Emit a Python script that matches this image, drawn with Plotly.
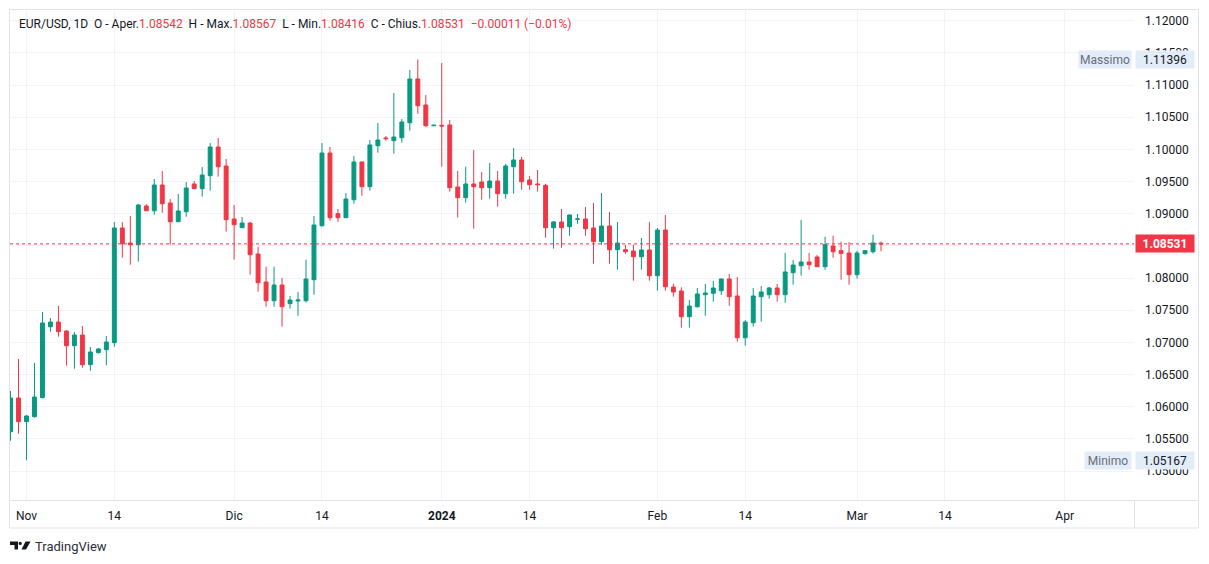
import pandas as pd
import plotly.graph_objects as go

# ---------------- data (EUR/USD daily, Sun-Fri sessions) ----------------
open_ = [1.05611, 1.06135, 1.05767, 1.05844, 1.06140, 1.07243, 1.07316, 1.07176, 1.06948, 1.07114,
         1.06653, 1.06840, 1.06886, 1.06995, 1.08778, 1.08544, 1.08518, 1.09120, 1.09046, 1.09446,
         1.09166, 1.08875, 1.09031, 1.09462, 1.09389, 1.09590, 1.10037, 1.09741, 1.08917, 1.08782,
         1.08855, 1.08373, 1.07938, 1.07647, 1.07891, 1.07601, 1.07643, 1.07647, 1.07974, 1.08813,
         1.09943, 1.09000, 1.08938, 1.09217, 1.09804, 1.09420, 1.10057, 1.10177, 1.10135, 1.10181,
         1.10414, 1.11094, 1.10690, 1.10368, 1.10374, 1.10379, 1.09415, 1.09249, 1.09462, 1.09493,
         1.09404, 1.09508, 1.09311, 1.09730, 1.09835, 1.09524, 1.09462, 1.09441, 1.08782, 1.08871,
         1.08798, 1.08913, 1.08918, 1.08778, 1.08565, 1.08809, 1.08440, 1.08440, 1.08420, 1.08331,
         1.08436, 1.08036, 1.08746, 1.07860, 1.07798, 1.07399, 1.07554, 1.07741, 1.07763, 1.07803,
         1.07985, 1.07721, 1.07072, 1.07305, 1.07710, 1.07741, 1.07845, 1.07741, 1.08083, 1.08191,
         1.08249, 1.08327, 1.08176, 1.08498, 1.08425, 1.08389, 1.08052, 1.08378, 1.08409, 1.08542]
high = [1.06244, 1.06741, 1.05871, 1.06679, 1.07472, 1.07378, 1.07565, 1.07192, 1.07161, 1.07254,
        1.06928, 1.06912, 1.07099, 1.08870, 1.08870, 1.08964, 1.09151, 1.09151, 1.09539, 1.09664,
        1.09228, 1.09306, 1.09492, 1.09508, 1.09726, 1.10099, 1.10177, 1.09850, 1.09135, 1.08949,
        1.08870, 1.08487, 1.08176, 1.08176, 1.08000, 1.07721, 1.07783, 1.08285, 1.08964, 1.10099,
        1.10037, 1.09073, 1.09322, 1.09897, 1.09810, 1.10145, 1.10410, 1.10208, 1.10876, 1.10472,
        1.11234, 1.11396, 1.10845, 1.10380, 1.11342, 1.10456, 1.09664, 1.09730, 1.09990, 1.09648,
        1.09788, 1.09664, 1.09772, 1.10021, 1.09881, 1.09586, 1.09679, 1.09466, 1.08886, 1.09073,
        1.08985, 1.08995, 1.09104, 1.09166, 1.09322, 1.09026, 1.08870, 1.08518, 1.08518, 1.08622,
        1.08870, 1.08778, 1.08980, 1.07912, 1.07856, 1.07658, 1.07845, 1.07907, 1.07954, 1.07990,
        1.08063, 1.08016, 1.07347, 1.07845, 1.07876, 1.07860, 1.07907, 1.08389, 1.08280, 1.08902,
        1.08389, 1.08358, 1.08642, 1.08658, 1.08565, 1.08560, 1.08425, 1.08436, 1.08673, 1.08567]
low = [1.05471, 1.05580, 1.05167, 1.05830, 1.06130, 1.07166, 1.07088, 1.06637, 1.06590, 1.06606,
       1.06559, 1.06824, 1.06643, 1.06932, 1.08316, 1.08207, 1.08254, 1.09046, 1.08984, 1.09015,
       1.08518, 1.08870, 1.08953, 1.09389, 1.09264, 1.09357, 1.09575, 1.08720, 1.08285, 1.08782,
       1.08052, 1.07787, 1.07554, 1.07554, 1.07243, 1.07523, 1.07414, 1.07616, 1.07741, 1.08798,
       1.08891, 1.08875, 1.08930, 1.09155, 1.09280, 1.09357, 1.09948, 1.10135, 1.09933, 1.10104,
       1.10290, 1.10554, 1.10348, 1.10360, 1.09730, 1.09342, 1.08938, 1.09171, 1.08767, 1.09217,
       1.09233, 1.09109, 1.09233, 1.09311, 1.09373, 1.09373, 1.09342, 1.08627, 1.08456, 1.08471,
       1.08658, 1.08844, 1.08658, 1.08223, 1.08518, 1.08223, 1.08129, 1.08378, 1.07958, 1.08129,
       1.07958, 1.07803, 1.07803, 1.07710, 1.07228, 1.07228, 1.07539, 1.07414, 1.07632, 1.07736,
       1.07570, 1.07010, 1.06948, 1.07243, 1.07321, 1.07679, 1.07632, 1.07616, 1.07896, 1.08036,
       1.08129, 1.08176, 1.08129, 1.08316, 1.07974, 1.07896, 1.07990, 1.08363, 1.08378, 1.08416]
close = [1.06135, 1.05767, 1.05855, 1.06150, 1.07301, 1.07316, 1.07166, 1.06948, 1.07114, 1.06653,
         1.06850, 1.06897, 1.07005, 1.08778, 1.08533, 1.08518, 1.09135, 1.09046, 1.09446, 1.09155,
         1.08875, 1.09042, 1.09399, 1.09389, 1.09601, 1.10037, 1.09730, 1.08907, 1.08829, 1.08855,
         1.08363, 1.07927, 1.07647, 1.07891, 1.07554, 1.07658, 1.07658, 1.07985, 1.08824, 1.09943,
         1.08938, 1.08938, 1.09228, 1.09804, 1.09420, 1.10068, 1.10145, 1.10166, 1.10192, 1.10425,
         1.11094, 1.10679, 1.10368, 1.10375, 1.10363, 1.09404, 1.09249, 1.09462, 1.09420, 1.09404,
         1.09508, 1.09311, 1.09741, 1.09835, 1.09497, 1.09451, 1.09451, 1.08782, 1.08871, 1.08782,
         1.08980, 1.08918, 1.08767, 1.08565, 1.08809, 1.08440, 1.08544, 1.08409, 1.08331, 1.08436,
         1.08036, 1.08746, 1.07865, 1.07783, 1.07399, 1.07565, 1.07752, 1.07767, 1.07845, 1.07985,
         1.07710, 1.07072, 1.07316, 1.07721, 1.07783, 1.07845, 1.07741, 1.08094, 1.08202, 1.08249,
         1.08207, 1.08176, 1.08518, 1.08409, 1.08384, 1.08052, 1.08389, 1.08425, 1.08544, 1.08531]

session_start = "2023-10-30"
session_end = "2024-04-12"
tick_dates = ["2023-11-01", "2023-11-14", "2023-12-01", "2023-12-14", "2024-01-01", "2024-01-14",
              "2024-02-01", "2024-02-14", "2024-03-01", "2024-03-14", "2024-04-01"]
tick_labels = ["Nov", "14", "Dic", "14", "<b>2024</b>", "14", "Feb", "14", "Mar", "14", "Apr"]
y_ticks = [1.05, 1.055, 1.06, 1.065, 1.07, 1.075, 1.08, 1.085, 1.09, 1.095, 1.10, 1.105, 1.11, 1.115, 1.12]

hi_label, lo_label = "Massimo", "Minimo"
symbol_txt = "EUR/USD, 1D"

# ---------------- styling ----------------
GREEN = "#089981"
RED = "#F23645"
TXT = "#131722"
GRID = "#f0f3fa"
BORDER = "#e0e3eb"
FONT = "Roboto, Noto Sans, sans-serif"

# session calendar (FX feed: Sunday to Friday) -> bar index
sessions = [d for d in pd.date_range(session_start, session_end) if d.weekday() != 5]
pos = {d.strftime("%Y-%m-%d"): i for i, d in enumerate(sessions)}
xs = list(range(len(open_)))
tickvals = [pos[d] for d in tick_dates]

W, H = 1209, 564
ML, MR, MT, MB = 10, 75, 10, 63
PW, PH = W - ML - MR, H - MT - MB


def px(X):
    return (X - ML) / PW


def py(Y):
    return (H - MB - Y) / PH


last_close = close[-1]
chg = close[-1] - open_[-1]
chg_pct = chg / open_[-1] * 100

# the price tag of the last close hides the nearest grid label
hidden = min(y_ticks, key=lambda v: abs(v - last_close))
y_text = ["" if v == hidden else f"{v:.5f}" for v in y_ticks]

fig = go.Figure()
fig.add_trace(go.Candlestick(
    x=xs, open=open_, high=high, low=low, close=close,
    increasing=dict(line=dict(color=GREEN, width=1), fillcolor=GREEN),
    decreasing=dict(line=dict(color=RED, width=1), fillcolor=RED),
    whiskerwidth=0, hoverinfo="skip",
))

# last price dotted line
fig.add_shape(type="line", xref="paper", yref="y", x0=0, x1=1, y0=last_close, y1=last_close,
              line=dict(color=RED, width=1, dash="dot"), layer="above")

# frame / axis borders
fig.add_shape(type="rect", xref="paper", yref="paper", x0=px(9.5), x1=px(1198.5), y0=py(528), y1=py(9.5),
              line=dict(color=BORDER, width=1), layer="above")
fig.add_shape(type="line", xref="paper", yref="paper", x0=px(9.5), x1=px(1198.5), y0=py(500.5), y1=py(500.5),
              line=dict(color=BORDER, width=1), layer="above")
fig.add_shape(type="line", xref="paper", yref="paper", x0=px(1134.5), x1=px(1134.5), y0=py(528), y1=py(500.5),
              line=dict(color=BORDER, width=1), layer="above")

# legend line (top-left)
def red(s):
    return f"<span style='color:{RED}'>{s}</span>"

sign = "\u2212" if chg < 0 else "+"
legend = (f"{symbol_txt}  O - Aper.{red(f'{open_[-1]:.5f}')}  H - Max.{red(f'{high[-1]:.5f}')}  "
          f"L - Min.{red(f'{low[-1]:.5f}')}  C - Chius.{red(f'{close[-1]:.5f}')}  "
          f"{red(f'{sign}{abs(chg):.5f} ({sign}{abs(chg_pct):.2f}%)')}")
fig.add_annotation(xref="paper", yref="paper", x=px(17), y=py(24), xanchor="left", yanchor="middle",
                   text=legend, showarrow=False, font=dict(family=FONT, size=12, color=TXT))

# price-axis labels
hmax = max(high)
lmin = min(low)
for val, lab, lw in [(hmax, hi_label, 52), (lmin, lo_label, 46)]:
    fig.add_annotation(xref="paper", yref="y", x=px(1132), y=val, xanchor="right", yanchor="middle",
                       text=lab, showarrow=False, bgcolor="#e3ecf9", width=lw, height=17, borderpad=0,
                       font=dict(family=FONT, size=12, color="#6a6d78"))
    fig.add_annotation(xref="paper", yref="y", x=px(1135), y=val, xanchor="left", yanchor="middle",
                       text=f"{val:.5f}", showarrow=False, bgcolor="#e3ecf9", width=58, height=17, borderpad=0,
                       font=dict(family=FONT, size=12, color=TXT))
fig.add_annotation(xref="paper", yref="y", x=px(1135), y=last_close, xanchor="left", yanchor="middle",
                   text=f"<b>{last_close:.5f}</b>", showarrow=False, bgcolor=RED, width=58, height=17,
                   borderpad=0, font=dict(family=FONT, size=12, color="white"))

# TradingView mark
fig.add_shape(type="path", xref="paper", yref="paper",
              path=(f"M {px(10)} {py(541.5)} L {px(18)} {py(541.5)} L {px(18)} {py(549.5)} "
                    f"L {px(14.5)} {py(549.5)} L {px(14.5)} {py(545)} L {px(10)} {py(545)} Z"),
              fillcolor="#131722", line=dict(width=0), layer="above")
fig.add_shape(type="circle", xref="paper", yref="paper", x0=px(18.6), x1=px(21.8), y0=py(545), y1=py(541.8),
              fillcolor="#131722", line=dict(width=0), layer="above")
fig.add_shape(type="path", xref="paper", yref="paper",
              path=(f"M {px(25.5)} {py(541.5)} L {px(30.5)} {py(541.5)} L {px(26)} {py(549.5)} "
                    f"L {px(21.5)} {py(549.5)} Z"),
              fillcolor="#131722", line=dict(width=0), layer="above")
fig.add_annotation(xref="paper", yref="paper", x=px(33), y=py(546), xanchor="left", yanchor="middle",
                   text="TradingView", showarrow=False, font=dict(family=FONT, size=13, color="#2a2e39"))

fig.update_layout(
    width=W, height=H, margin=dict(l=ML, r=MR, t=MT, b=MB),
    paper_bgcolor="white", plot_bgcolor="white", showlegend=False,
    font=dict(family=FONT, size=12, color=TXT),
    xaxis=dict(range=[-0.064, 140.68], tickmode="array", tickvals=tickvals, ticktext=tick_labels,
               showgrid=True, gridcolor=GRID, gridwidth=1, zeroline=False, showline=False,
               ticks="", rangeslider=dict(visible=False), tickfont=dict(size=12, color=TXT),
               ticklabelstandoff=6, fixedrange=True),
    yaxis=dict(side="right", range=[1.045338, 1.121663], tickmode="array", tickvals=y_ticks,
               ticktext=y_text, showgrid=True, gridcolor=GRID, gridwidth=1, zeroline=False,
               showline=False, ticks="", tickfont=dict(size=12, color=TXT), ticklabelstandoff=10,
               fixedrange=True),
)

fig.write_html("out.html", config={"displayModeBar": False},
               post_script="document.body.style.margin='0';")
